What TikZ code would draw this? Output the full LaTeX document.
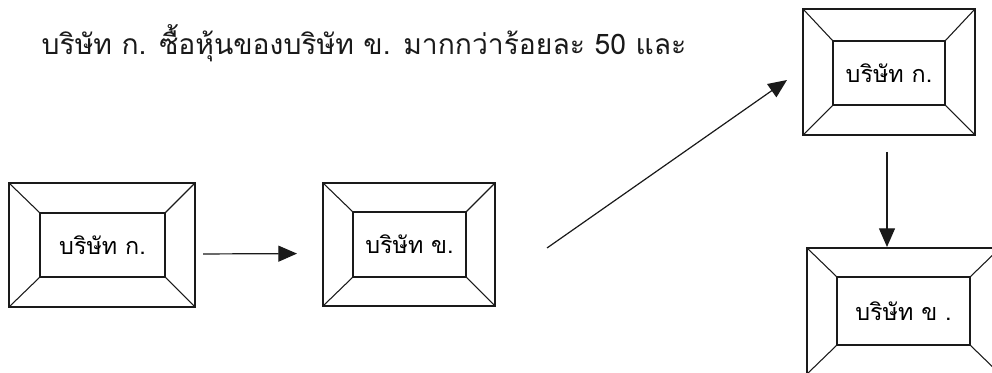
\documentclass[tikz,border=0pt]{standalone}
\usepackage{fontspec}
\usepackage{tikz}
\usetikzlibrary{arrows.meta}
\newfontfamily\thaifont[Script=Thai]{Loma}
\definecolor{inkgray}{HTML}{1A1A1A}

\begin{document}
\begin{tikzpicture}[x=0.75pt,y=-0.75pt,>={Triangle[length=14pt,width=12pt]},
  frame/.style={draw=inkgray,line width=0.8pt,inner sep=0pt,outer sep=0pt},
  firmtext/.style={frame,font=\thaifont\fontsize{17.5}{21}\selectfont},
  link/.style={->,draw=inkgray,line width=0.9pt}]
  \useasboundingbox (0,0) rectangle (992,373);
  \node[anchor=base west,inkgray,font=\thaifont\fontsize{21.2}{25}\selectfont] (title) at (37,55)
    {บริษัท ก. ซื้อหุ้นของบริษัท ข. มากกว่าร้อยละ 50 และ};
  \node[frame,minimum width=139.5pt,minimum height=93pt] (outA) at (102,245) {};
  \node[firmtext,minimum width=93.75pt,minimum height=48pt] (inA) at (102.5,245) {บริษัท ก.};
  \node[frame,minimum width=129pt,minimum height=92.25pt] (outB) at (409,244.5) {};
  \node[firmtext,minimum width=84.75pt,minimum height=48.75pt] (inB) at (409.5,244.5) {บริษัท ข.};
  \node[frame,minimum width=129pt,minimum height=94.5pt] (outC) at (889,72) {};
  \node[firmtext,minimum width=84pt,minimum height=48pt] (inC) at (889,73) {บริษัท ก.};
  \node[frame,minimum width=144.75pt,minimum height=94.5pt] (outD) at (903.5,311) {};
  \node[firmtext,minimum width=99.75pt,minimum height=51pt] (inD) at (903.5,311) {บริษัท ข .};
  \foreach \b in {A,B,C,D}
    \foreach \c in {north west,north east,south west,south east}
      \draw[inkgray,line width=0.8pt] (out\b.\c) -- (in\b.\c);
  \draw[link,shorten <=6pt,shorten >=19.5pt] ([yshift=-6.75pt]outA.east) -- ([yshift=-6.75pt]outB.west);
  \coordinate (riseS) at (547,248);
  \coordinate (riseE) at (787,80);
  \draw[link] (riseS) -- (riseE);
  \draw[link,shorten <=12.75pt,shorten >=0.75pt] ([xshift=-1.5pt]outC.south) -- ([xshift=-1.5pt]outC.south |- outD.north);
\end{tikzpicture}
\end{document}
